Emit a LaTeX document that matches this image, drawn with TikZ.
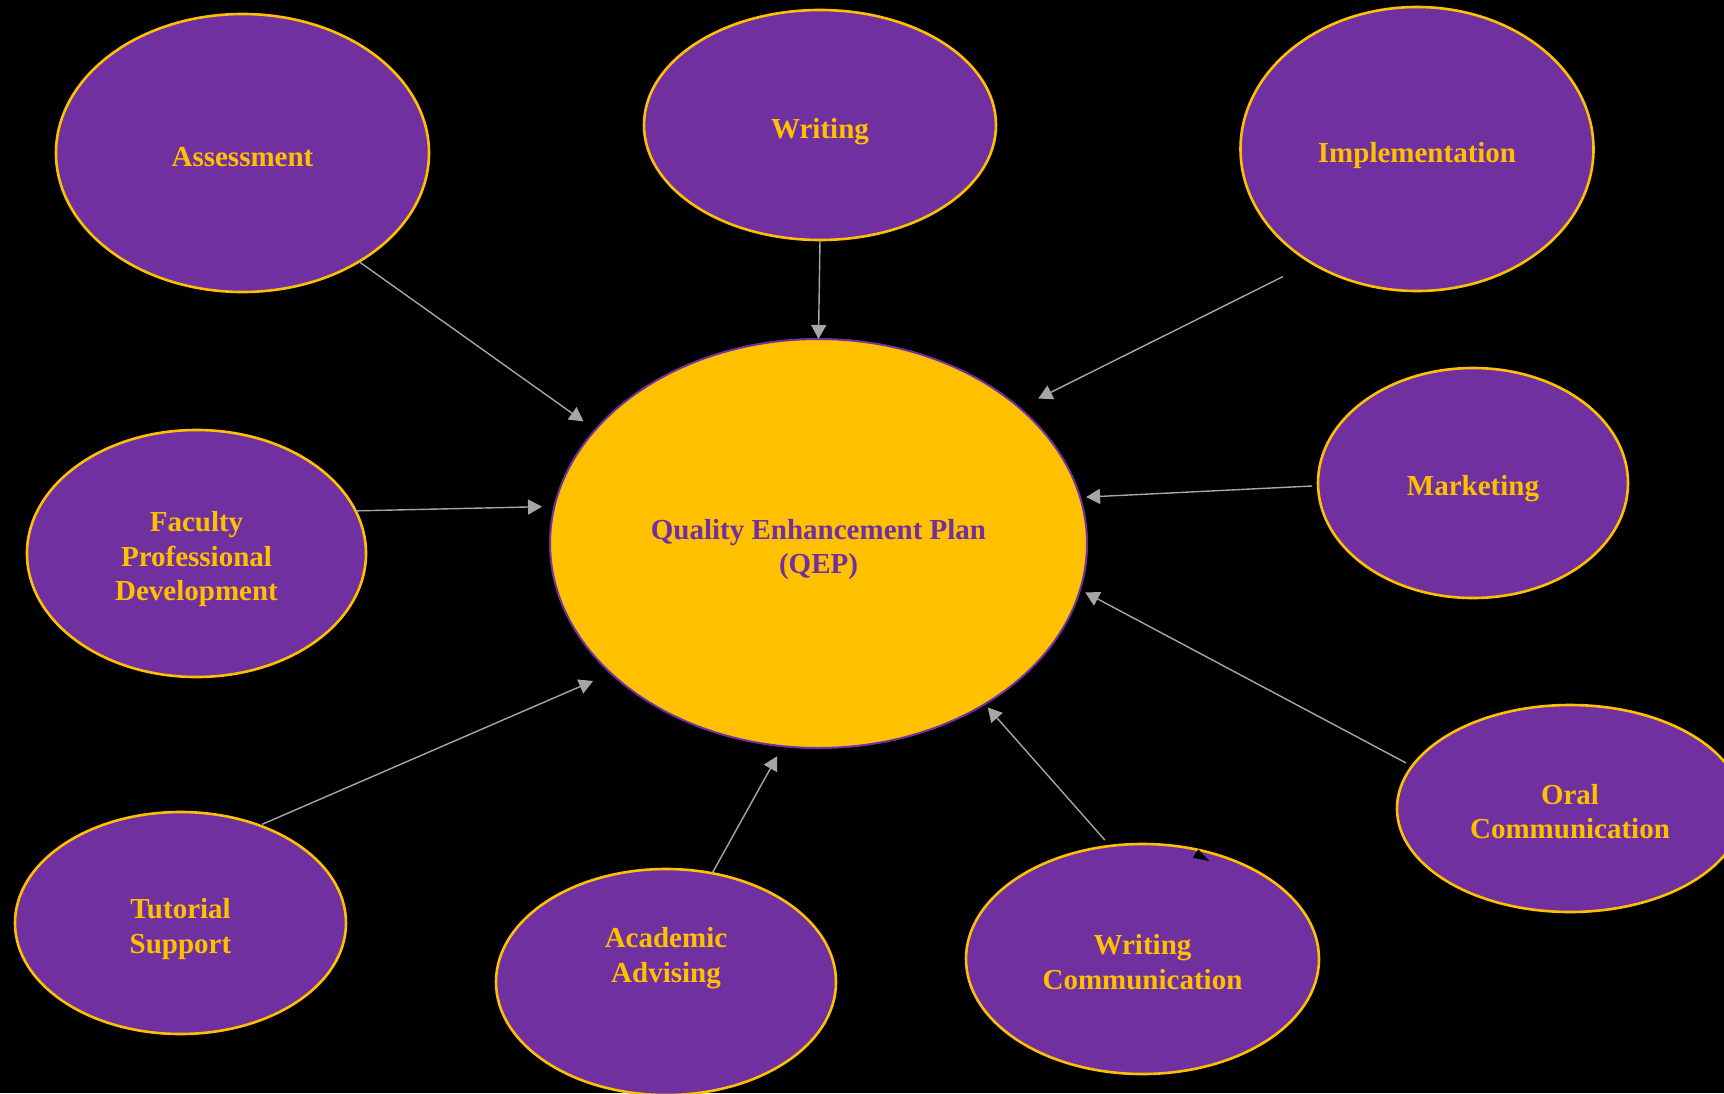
\documentclass[tikz,border=0pt]{standalone}
\usepackage{fontspec}
\setmainfont{Liberation Serif}
\usetikzlibrary{shapes.geometric,arrows.meta}
\definecolor{qpurple}{HTML}{7030A0}
\definecolor{qgold}{HTML}{FFC000}
\definecolor{linkgray}{HTML}{A6A6A6}
\begin{document}
\begin{tikzpicture}[x=1pt,y=-1pt,
  bubbletext/.style={text=qgold, align=center, inner sep=0pt,
    font=\fontsize{29}{34.5}\selectfont\bfseries},
  coretext/.style={text=qpurple, align=center, inner sep=0pt,
    font=\fontsize{29}{34.5}\selectfont\bfseries},
  bubble/.style={ellipse, draw=qgold, line width=2.6pt, fill=qpurple,
    inner sep=0pt, outer sep=0pt},
  core/.style={ellipse, draw=qpurple, line width=2pt, fill=qgold,
    inner sep=0pt, outer sep=0pt},
  link/.style={draw=linkgray, line width=1.4pt,
    -{Triangle[length=14pt,width=15pt]}}
]
\useasboundingbox (0,0) rectangle (1724,1093);
\fill[black] (0,0) rectangle (1724,1093);

% central plan
\node[core, minimum width=537pt, minimum height=409pt,
  label={[coretext, yshift=-6pt, name=qeptext]center:{Quality Enhancement Plan\\(QEP)}}]
  (qep) at (818.5,543.5) {};

% surrounding areas
\node[bubble, minimum width=373pt, minimum height=278pt,
  label={[bubbletext, yshift=-4pt, name=assesstext]center:Assessment}]
  (assess) at (242.5,153) {};
\node[bubble, minimum width=352pt, minimum height=230pt,
  label={[bubbletext, yshift=-7pt, name=writingtext]center:Writing}]
  (writing) at (820,125) {};
\node[bubble, minimum width=353pt, minimum height=284pt,
  label={[bubbletext, yshift=-7pt, name=impltext]center:Implementation}]
  (impl) at (1417,149) {};
\node[bubble, minimum width=310pt, minimum height=230pt,
  label={[bubbletext, yshift=-6pt, name=markettext]center:Marketing}]
  (market) at (1473,483) {};
\node[bubble, minimum width=339pt, minimum height=247pt,
  label={[bubbletext, yshift=-6pt, name=facultytext]center:{Faculty\\Professional\\Development}}]
  (faculty) at (196.5,553.5) {};
\node[bubble, minimum width=346pt, minimum height=207pt,
  label={[bubbletext, yshift=-3pt, name=oraltext]center:{Oral\\Communication}}]
  (oral) at (1570,808.5) {};
\node[bubble, minimum width=353pt, minimum height=230pt,
  label={[bubbletext, yshift=-3pt, name=wcommtext]center:{Writing\\Communication}}]
  (wcomm) at (1142.5,959) {};
\node[bubble, minimum width=340pt, minimum height=226pt,
  label={[bubbletext, yshift=24pt, name=acadtext]center:{Academic\\Advising}}]
  (acad) at (666,982) {};
\node[bubble, minimum width=331pt, minimum height=222pt,
  label={[bubbletext, yshift=-6pt, name=tutortext]center:{Tutorial\\Support}}]
  (tutor) at (180.5,923) {};

% connectors into the plan
\draw[link, shorten >=14.5pt] (assess.-43.6) -- (qep.153.2);
\draw[link] (writing.-90) -- (qep.90);
\draw[link, shorten <=31.5pt, shorten >=21pt] (impl.-133.4) -- (qep.34.1);
\draw[link, shorten <=6pt, shorten >=6pt] (market.181.4) -- (qep.10.25);
\draw[link, shorten >=12.4pt] (faculty.15.2) -- (qep.172.1);
\draw[link, shorten <=3pt, shorten >=19.5pt] (tutor.51.1) -- (qep.-148.3);
\draw[link, shorten >=11.4pt] (acad.67.5) -- (qep.-100.4);
\draw[link, shorten <=8pt, shorten >=4.5pt] (wcomm.106.7) -- (qep.-44.8);
\draw[link, shorten <=7pt, shorten >=5.8pt] (oral.165.4) -- (qep.-10.1);

% small dark tip on the rim of the writing-communication bubble
\fill[black] (1198.3,849.3) -- (1192.7,857.8) -- (1209.3,861) -- cycle;
\end{tikzpicture}
\end{document}
